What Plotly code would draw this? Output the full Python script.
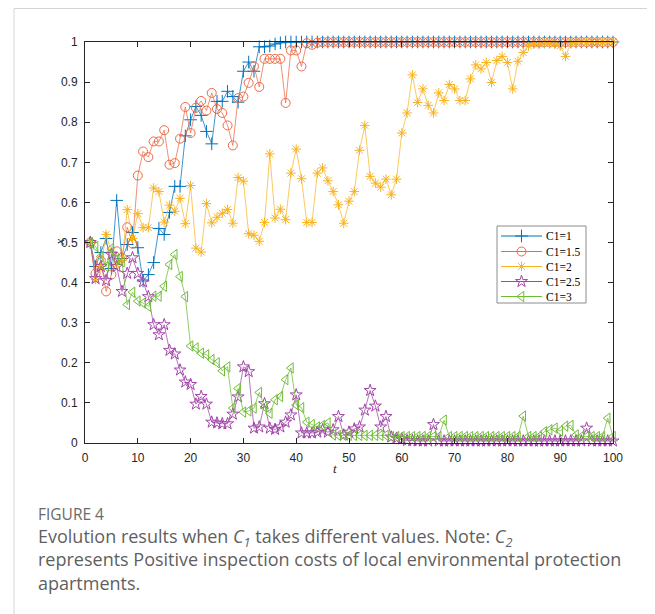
import plotly.graph_objects as go

t = list(range(1, 101))

c1_1 = [0.5, 0.44, 0.475, 0.51, 0.435, 0.605, 0.46, 0.495, 0.525, 0.487,
        0.404, 0.42, 0.45, 0.535, 0.52, 0.575, 0.64, 0.64, 0.766, 0.806,
        0.839, 0.817, 0.777, 0.746, 0.852, 0.852, 0.877, 0.864, 0.85, 0.927,
        0.95, 0.927, 0.988, 0.988, 0.99, 0.995, 0.998] + [1.0] * 63

c1_15 = [0.5, 0.423, 0.455, 0.378, 0.42, 0.478, 0.462, 0.538, 0.497, 0.667,
         0.727, 0.713, 0.752, 0.752, 0.78, 0.694, 0.698, 0.759, 0.838, 0.773,
         0.836, 0.853, 0.829, 0.873, 0.833, 0.823, 0.792, 0.742, 0.86, 0.864,
         0.898, 0.939, 0.888, 0.958, 0.958, 0.958, 0.958, 0.848, 0.979, 0.979,
         0.939, 0.997, 0.993, 0.998] + [1.0] * 56

c1_2 = [0.5, 0.408, 0.44, 0.52, 0.478, 0.445, 0.455, 0.582, 0.51, 0.572,
        0.537, 0.537, 0.636, 0.627, 0.551, 0.593, 0.578, 0.61, 0.547, 0.642,
        0.486, 0.476, 0.597, 0.549, 0.563, 0.573, 0.582, 0.548, 0.662, 0.653,
        0.522, 0.518, 0.503, 0.55, 0.721, 0.561, 0.583, 0.557, 0.673, 0.733,
        0.659, 0.55, 0.55, 0.673, 0.686, 0.654, 0.627, 0.594, 0.548, 0.603,
        0.627, 0.73, 0.792, 0.665, 0.648, 0.638, 0.658, 0.619, 0.658, 0.773,
        0.823, 0.918, 0.849, 0.883, 0.842, 0.823, 0.873, 0.854, 0.894, 0.883,
        0.854, 0.854, 0.908, 0.943, 0.933, 0.949, 0.899, 0.954, 0.964, 0.949,
        0.883, 0.952, 0.974, 0.99, 0.995, 0.995, 0.997, 0.997, 0.995, 0.99,
        0.964, 0.997, 0.998, 0.999, 1.0, 1.0, 1.0, 1.0, 1.0, 1.0]

c1_25 = [0.5, 0.41, 0.44, 0.405, 0.47, 0.44, 0.378, 0.423, 0.462, 0.423,
         0.402, 0.365, 0.295, 0.27, 0.295, 0.231, 0.222, 0.182, 0.152, 0.146,
         0.097, 0.116, 0.097, 0.052, 0.05, 0.048, 0.048, 0.072, 0.115, 0.19,
         0.178, 0.037, 0.04, 0.098, 0.037, 0.034, 0.04, 0.052, 0.07, 0.12,
         0.025, 0.025, 0.025, 0.027, 0.033, 0.027, 0.033, 0.066, 0.02, 0.027,
         0.035, 0.04, 0.082, 0.131, 0.092, 0.04, 0.066, 0.015, 0.012, 0.01,
         0.006, 0.006, 0.005, 0.005, 0.005, 0.046, 0.005, 0.005, 0.005, 0.005,
         0.005, 0.005, 0.005, 0.005, 0.005, 0.005, 0.005, 0.005, 0.005, 0.005,
         0.005, 0.005, 0.005, 0.005, 0.005, 0.005, 0.005, 0.005, 0.005, 0.005,
         0.005, 0.005, 0.005, 0.005, 0.037, 0.005, 0.005, 0.005, 0.005, 0.005]

c1_3 = [0.5, 0.49, 0.465, 0.44, 0.485, 0.458, 0.452, 0.345, 0.376, 0.354,
        0.349, 0.341, 0.366, 0.366, 0.391, 0.445, 0.47, 0.415, 0.365, 0.242,
        0.237, 0.224, 0.22, 0.208, 0.2, 0.18, 0.19, 0.087, 0.136, 0.077,
        0.08, 0.087, 0.126, 0.09, 0.074, 0.108, 0.116, 0.158, 0.187, 0.095,
        0.088, 0.052, 0.046, 0.04, 0.044, 0.05, 0.02, 0.019, 0.019, 0.019,
        0.019, 0.019, 0.019, 0.019, 0.019, 0.019, 0.019, 0.016, 0.016, 0.016,
        0.016, 0.016, 0.016, 0.016, 0.016, 0.016, 0.016, 0.057, 0.016, 0.016,
        0.016, 0.016, 0.016, 0.016, 0.016, 0.016, 0.016, 0.016, 0.016, 0.016,
        0.016, 0.016, 0.067, 0.016, 0.016, 0.016, 0.028, 0.033, 0.037, 0.03,
        0.042, 0.044, 0.02, 0.016, 0.016, 0.016, 0.016, 0.016, 0.062, 0.016]

names = ["C1=1", "C1=1.5", "C1=2", "C1=2.5", "C1=3"]
series = [c1_1, c1_15, c1_2, c1_25, c1_3]
colors = ["#0072BD", "#EC6A45", "#F8B21C", "#A145A8", "#6EBC35"]
line_colors = ["rgba(0,114,189,0.75)", "rgba(236,106,69,0.75)", "rgba(248,178,28,0.7)",
               "rgba(161,69,168,0.75)", "rgba(110,188,53,0.75)"]
symbols = ["cross-thin-open", "circle-open", "asterisk-open", "star-open", "triangle-left-open"]
sizes = [9, 9, 8, 9, 9]

fig = go.Figure()
for name, ys, col, lc, sym, sz in zip(names, series, colors, line_colors, symbols, sizes):
    fig.add_trace(go.Scatter(
        x=t, y=ys, mode="lines+markers", name=name, showlegend=False,
        line=dict(color=lc, width=1),
        marker=dict(symbol=sym, size=sz, color=col, line=dict(color=col, width=1)),
        cliponaxis=False,
    ))

# page has an 8px body margin: figure is offset by (8, 8) in the window
OFF = 8
W, H = 655 - OFF, 614 - OFF
# plot area in window pixels: x 85..613, y 42..443
PX0, PX1, PY0, PY1 = 85, 613, 42, 443
L, R, T, B = PX0 - OFF, (W + OFF) - PX1, PY0 - OFF, (H + OFF) - PY1
PW, PH = PX1 - PX0, PY1 - PY0

def px(x):
    return (x - PX0) / PW

def py(y):
    return (PY1 - y) / PH

# custom legend drawn on a hidden overlay axis matching the plot area
leg_rows = [236, 251.5, 266.5, 281.5, 296.5]
for name, col, sym, sz, yy in zip(names, colors, symbols, sizes, leg_rows):
    fig.add_trace(go.Scatter(
        x=[px(501), px(542)], y=[py(yy), py(yy)], mode="lines",
        line=dict(color=col, width=1), xaxis="x2", yaxis="y2",
        showlegend=False, hoverinfo="skip"))
    fig.add_trace(go.Scatter(
        x=[px(521.5)], y=[py(yy)], mode="markers",
        marker=dict(symbol=sym, size=sz, color=col, line=dict(color=col, width=1)),
        xaxis="x2", yaxis="y2", showlegend=False, hoverinfo="skip"))

annotations = []
for name, yy in zip(names, leg_rows):
    annotations.append(dict(
        x=px(544), y=py(yy), xref="paper", yref="paper", text=name,
        showarrow=False, xanchor="left", yanchor="middle",
        font=dict(family="Liberation Serif", size=11.5, color="#000000")))

# axis titles
annotations.append(dict(x=px(335), y=py(478), xref="paper", yref="paper",
                        text="<i>t</i>", showarrow=False,
                        font=dict(family="Liberation Serif", size=13, color="#262626")))
annotations.append(dict(x=px(49), y=py(242), xref="paper", yref="paper",
                        text="<i>x</i>", showarrow=False, textangle=-90,
                        font=dict(family="Liberation Serif", size=13, color="#262626")))

# caption
annotations.append(dict(x=px(36), y=py(514), xref="paper", yref="paper",
                        text="FIGURE 4", showarrow=False, xanchor="left", yanchor="middle",
                        font=dict(family="Open Sans", size=15.5, color="#6a6a6a")))
caption = ("Evolution results when <i>C<sub>1</sub></i> takes different values. Note: <i>C<sub>2</sub></i>"
           "<br>represents Positive inspection costs of local environmental protection"
           "<br>apartments.")
annotations.append(dict(x=px(36), y=py(559), xref="paper", yref="paper",
                        text=caption, showarrow=False, xanchor="left", yanchor="middle",
                        align="left",
                        font=dict(family="Open Sans", size=18, color="#5f5f5f")))

shapes = [
    # legend box
    dict(type="rect", xref="paper", yref="paper", x0=px(497), x1=px(586),
         y0=py(303), y1=py(226), line=dict(color="#8c8c8c", width=1),
         fillcolor="white", layer="below"),
    # page card border (left & top)
    dict(type="line", xref="paper", yref="paper", x0=px(14), x1=px(14),
         y0=py(8.5), y1=py(640), line=dict(color="#d4d4d4", width=1)),
    dict(type="line", xref="paper", yref="paper", x0=px(14), x1=px(700),
         y0=py(8.5), y1=py(8.5), line=dict(color="#d4d4d4", width=1)),
]

axis_common = dict(
    showgrid=False, zeroline=False, showline=True, linecolor="#262626", linewidth=1,
    mirror="ticks", ticks="inside", ticklen=5, tickcolor="#262626", tickwidth=1,
    tickfont=dict(family="Liberation Sans", size=12, color="#262626"),
)

fig.update_layout(
    width=W, height=H,
    margin=dict(l=L, r=R, t=T, b=B),
    paper_bgcolor="white", plot_bgcolor="white",
    showlegend=False,
    xaxis=dict(range=[0, 100], dtick=10, tick0=0, ticklabelstandoff=4, **axis_common),
    yaxis=dict(range=[0, 1], dtick=0.1, tick0=0, ticklabelstandoff=4, **axis_common),
    xaxis2=dict(range=[0, 1], overlaying="x", anchor="y2", visible=False),
    yaxis2=dict(range=[0, 1], overlaying="y", anchor="x2", visible=False),
    annotations=annotations,
    shapes=shapes,
)

fig.write_html("out.html")
